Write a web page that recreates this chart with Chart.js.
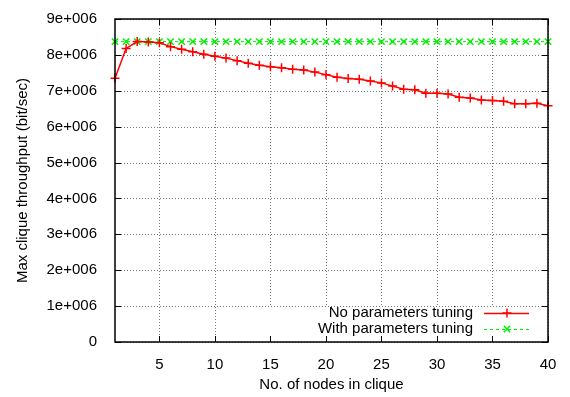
<!DOCTYPE html>
<html>
<head>
<meta charset="utf-8">
<script src="https://cdn.jsdelivr.net/npm/chart.js@4/dist/chart.umd.min.js"></script>
<style>
    html, body { margin: 0; padding: 0; background: #fff; }
    #wrap { width: 570px; height: 397px; }
</style>
</head>
<body>
<div id="wrap"><canvas id="cliqueChart" width="570" height="397"></canvas></div>
<script>
const FONT = "'Liberation Sans', Arial, sans-serif";

// values
const nodes = [1, 2, 3, 4, 5, 6, 7, 8, 9, 10, 11, 12, 13, 14, 15, 16, 17, 18, 19, 20,
    21, 22, 23, 24, 25, 26, 27, 28, 29, 30, 31, 32, 33, 34, 35, 36, 37, 38, 39, 40];

const noTuning = [7350000, 8180000, 8370000, 8360000, 8340000, 8230000, 8160000, 8090000, 8020000, 7960000,
    7910000, 7840000, 7770000, 7710000, 7670000, 7640000, 7600000, 7580000, 7520000, 7450000,
    7380000, 7340000, 7320000, 7270000, 7220000, 7130000, 7040000, 7030000, 6930000, 6930000,
    6910000, 6820000, 6800000, 6740000, 6730000, 6710000, 6640000, 6640000, 6650000, 6580000];

const withTuning = [8370000, 8370000, 8370000, 8370000, 8370000, 8370000, 8370000, 8370000, 8370000, 8370000,
    8370000, 8370000, 8370000, 8370000, 8370000, 8370000, 8370000, 8370000, 8370000, 8370000,
    8370000, 8370000, 8370000, 8370000, 8370000, 8370000, 8370000, 8370000, 8370000, 8370000,
    8370000, 8370000, 8370000, 8370000, 8370000, 8370000, 8370000, 8370000, 8370000, 8370000];

const xTicks = [5, 10, 15, 20, 25, 30, 35, 40];
const seriesLabels = ["No parameters tuning", "With parameters tuning"];

const RED = "#ff0000";
const GREEN = "#00ee00";

function toPoints(values) {
    return nodes.map((n, i) => ({x: n, y: values[i]}));
}

// dotted grid, white key box, gnuplot style legend, border and inward tick marks
const gnuplotFrame = {
    id: "gnuplotFrame",
    beforeDatasetsDraw(chart) {
        const ctx = chart.ctx;
        const a = chart.chartArea;
        const xs = chart.scales.x;
        const ys = chart.scales.y;
        ctx.save();
        ctx.strokeStyle = "#777";
        ctx.lineWidth = 1;
        ctx.setLineDash([1, 2]);
        xs.ticks.forEach(t => {
            const px = Math.round(xs.getPixelForValue(t.value)) + 0.5;
            ctx.beginPath();
            ctx.moveTo(px, a.top); ctx.lineTo(px, a.bottom);
            ctx.stroke();
        });
        ys.ticks.forEach(t => {
            const py = Math.round(ys.getPixelForValue(t.value)) + 0.5;
            ctx.beginPath();
            ctx.moveTo(a.left, py); ctx.lineTo(a.right, py);
            ctx.stroke();
        });
        ctx.setLineDash([]);
        ctx.fillStyle = "#fff";
        ctx.fillRect(240, 307, a.right - 240, a.bottom - 307);
        ctx.restore();
    },
    afterDraw(chart) {
        const ctx = chart.ctx;
        const a = chart.chartArea;
        const xs = chart.scales.x;
        const ys = chart.scales.y;
        ctx.save();
        ctx.strokeStyle = "#000";
        ctx.lineWidth = 1;
        xs.ticks.forEach(t => {
            const px = Math.round(xs.getPixelForValue(t.value)) + 0.5;
            ctx.beginPath();
            ctx.moveTo(px, a.bottom); ctx.lineTo(px, a.bottom - 6);
            ctx.moveTo(px, a.top); ctx.lineTo(px, a.top + 6);
            ctx.stroke();
        });
        ys.ticks.forEach(t => {
            const py = Math.round(ys.getPixelForValue(t.value)) + 0.5;
            ctx.beginPath();
            ctx.moveTo(a.left, py); ctx.lineTo(a.left + 6, py);
            ctx.moveTo(a.right, py); ctx.lineTo(a.right - 6, py);
            ctx.stroke();
        });
        ctx.lineWidth = 1.5;
        ctx.strokeRect(a.left, a.top, a.right - a.left, a.bottom - a.top);

        // legend
        const rows = [
            {label: seriesLabels[0], y: 313, color: RED, dash: [], style: "cross"},
            {label: seriesLabels[1], y: 329, color: GREEN, dash: [3, 3], style: "crossRot"}
        ];
        ctx.font = "15px " + FONT;
        ctx.textAlign = "right";
        ctx.textBaseline = "middle";
        rows.forEach(r => {
            ctx.fillStyle = "#000";
            ctx.fillText(r.label, 473, r.y);
            ctx.strokeStyle = r.color;
            ctx.lineWidth = r.style === "cross" ? 1.5 : 1;
            ctx.setLineDash(r.dash);
            ctx.beginPath();
            ctx.moveTo(484, r.y + 0.5);
            ctx.lineTo(529, r.y + 0.5);
            ctx.stroke();
            ctx.setLineDash([]);
            ctx.strokeStyle = r.color;
            ctx.lineWidth = 1.5;
            Chart.helpers.drawPoint(ctx, {pointStyle: r.style, radius: 4.5, borderWidth: 1.5}, 507, r.y);
        });
        ctx.restore();
    }
};

new Chart("cliqueChart", {
    type: "line",
    data: {
        datasets: [
            {
                label: seriesLabels[0],
                data: toPoints(noTuning),
                borderColor: RED,
                backgroundColor: RED,
                borderWidth: 1.5,
                pointStyle: "cross",
                pointRadius: 4.5,
                pointBorderWidth: 1.5,
                clip: false
            },
            {
                label: seriesLabels[1],
                data: toPoints(withTuning),
                borderColor: GREEN,
                backgroundColor: GREEN,
                borderWidth: 1,
                borderDash: [3, 3],
                pointStyle: "crossRot",
                pointRadius: 4.5,
                pointBorderWidth: 1.5,
                clip: false
            }
        ]
    },
    options: {
        responsive: false,
        animation: false,
        layout: {padding: {top: 10, right: 22, left: 0, bottom: 0}},
        plugins: {
            legend: {display: false},
            tooltip: {enabled: false}
        },
        scales: {
            x: {
                type: "linear",
                min: 1,
                max: 40,
                afterBuildTicks: scale => {
                    scale.ticks = xTicks.map(v => ({value: v}));
                },
                afterFit: scale => { scale.height = 55; },
                grid: {display: false},
                border: {display: false},
                ticks: {
                    color: "#000",
                    font: {family: FONT, size: 15},
                    padding: 6,
                    maxRotation: 0,
                    autoSkip: false
                },
                title: {
                    display: true,
                    text: "No. of nodes in clique",
                    color: "#000",
                    font: {family: FONT, size: 15},
                    padding: {top: 0, bottom: 3}
                }
            },
            y: {
                min: 0,
                max: 9000000,
                afterFit: scale => { scale.width = 115; },
                grid: {display: false},
                border: {display: false},
                ticks: {
                    stepSize: 1000000,
                    color: "#000",
                    font: {family: FONT, size: 15},
                    padding: 10,
                    callback: v => v === 0 ? "0" : (v / 1000000) + "e+006"
                },
                title: {
                    display: true,
                    text: "Max clique throughput (bit/sec)",
                    color: "#000",
                    font: {family: FONT, size: 15},
                    padding: {top: 14, bottom: 0}
                }
            }
        }
    },
    plugins: [gnuplotFrame]
});
</script>
</body>
</html>
